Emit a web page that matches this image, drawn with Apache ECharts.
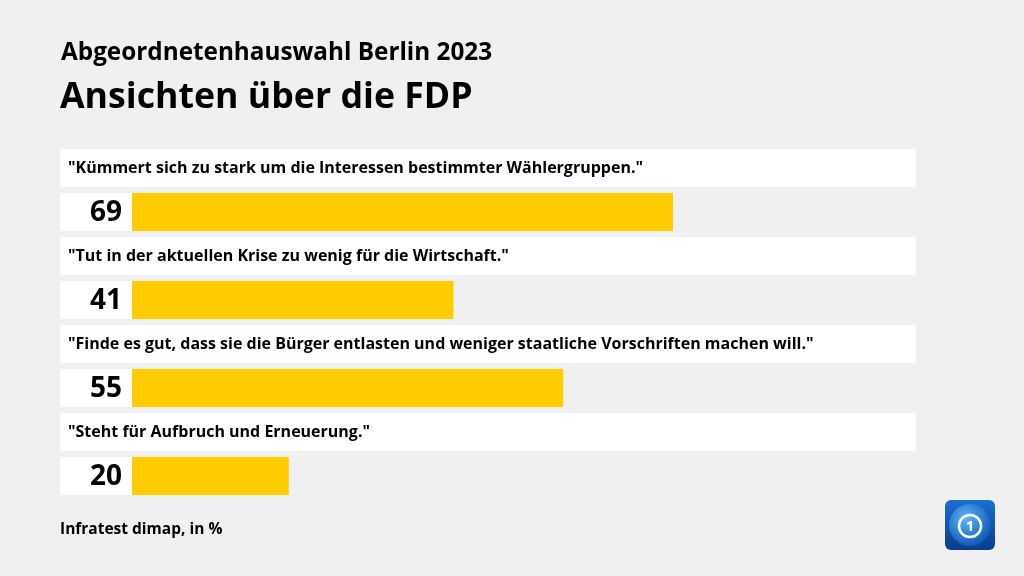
<!DOCTYPE html>
<html>
<head>
<meta charset="utf-8">
<script src="https://cdn.jsdelivr.net/npm/echarts@6/dist/echarts.min.js"></script>
<style>
  html, body { margin: 0; padding: 0; background: #f0f0f0; }
  #chart { width: 1024px; height: 576px; }
</style>
</head>
<body>
<div id="chart"></div>
<script>
const statements = [
  '"Kümmert sich zu stark um die Interessen bestimmter Wählergruppen."',
  '"Tut in der aktuellen Krise zu wenig für die Wirtschaft."',
  '"Finde es gut, dass sie die Bürger entlasten und weniger staatliche Vorschriften machen will."',
  '"Steht für Aufbruch und Erneuerung."'
];
const shares = [69, 41, 55, 20];
const axisMax = 100;

const FONT = '"Open Sans", "Noto Sans", sans-serif';

const chart = echarts.init(document.getElementById('chart'));

// eine Zeile = Aussage (weiße Box) + Wert (gelber Balken)
const renderRow = (params, api) => {
  const idx = api.value(0);
  const val = api.value(1);
  const start = api.coord([0, idx]);
  const end = api.coord([val, idx]);
  const full = api.coord([axisMax, idx]);
  const band = api.size([0, 1])[1];
  const c = start[1];
  const h = band / 2 - 6;
  const left = start[0] - 72;
  return {
    type: 'group',
    children: [
      { type: 'rect', shape: { x: left, y: c - 3 - h, width: full[0] - left, height: h }, style: { fill: '#ffffff' } },
      { type: 'text', x: left + 8, y: c - 3 - h / 2,
        style: { text: statements[idx], font: 'bold 16px ' + FONT, fill: '#000', verticalAlign: 'middle' } },
      { type: 'rect', shape: { x: left, y: c + 3, width: 72, height: h }, style: { fill: '#ffffff' } },
      { type: 'rect', shape: { x: start[0], y: c + 3, width: end[0] - start[0], height: h }, style: { fill: '#ffcc00' } },
      { type: 'text', x: start[0] - 10, y: c + 3 + h / 2 + 1,
        style: { text: String(val), font: 'bold 28px ' + FONT, fill: '#000', align: 'right', verticalAlign: 'middle' } }
    ]
  };
};

chart.setOption({
  backgroundColor: '#f0f0f0',
  animation: false,
  title: [
    { text: 'Abgeordnetenhauswahl Berlin 2023', left: 56, top: 36,
      textStyle: { fontFamily: FONT, fontSize: 24.3, fontWeight: 'bold', color: '#000' } },
    { text: 'Ansichten über die FDP', left: 55, top: 75,
      textStyle: { fontFamily: FONT, fontSize: 35.7, fontWeight: 'bold', color: '#000' } },
    { text: 'Infratest dimap, in %', left: 55, top: 517,
      textStyle: { fontFamily: FONT, fontSize: 15.5, fontWeight: 'bold', color: '#000' } }
  ],
  grid: { left: 132, right: 108, top: 146, bottom: 78 },
  xAxis: { type: 'value', min: 0, max: axisMax, show: false },
  yAxis: { type: 'category', data: statements, inverse: true, show: false },
  series: [{
    type: 'custom',
    renderItem: renderRow,
    encode: { x: 1, y: 0 },
    data: shares.map((v, i) => [i, v])
  }],
  graphic: [{
    type: 'group', left: 945, top: 500,
    children: [
      { type: 'rect', shape: { x: 0, y: 0, width: 50, height: 50, r: 6 },
        style: { fill: new echarts.graphic.LinearGradient(0, 0, 0, 1, [
          { offset: 0, color: '#1b6fd0' }, { offset: 1, color: '#0a3c8c' }]) } },
      { type: 'circle', shape: { cx: 25, cy: 25, r: 21 },
        style: { fill: new echarts.graphic.RadialGradient(0.4, 0.35, 0.7, [
          { offset: 0, color: '#5fb4f5' }, { offset: 1, color: '#0d55b5' }]) } },
      { type: 'circle', shape: { cx: 25, cy: 26, r: 11 },
        style: { fill: 'none', stroke: '#ffffff', lineWidth: 2.5 } },
      { type: 'text', x: 25, y: 27,
        style: { text: '1', font: 'bold 15px ' + FONT, fill: '#ffffff', align: 'center', verticalAlign: 'middle' } }
    ]
  }]
});
</script>
</body>
</html>
